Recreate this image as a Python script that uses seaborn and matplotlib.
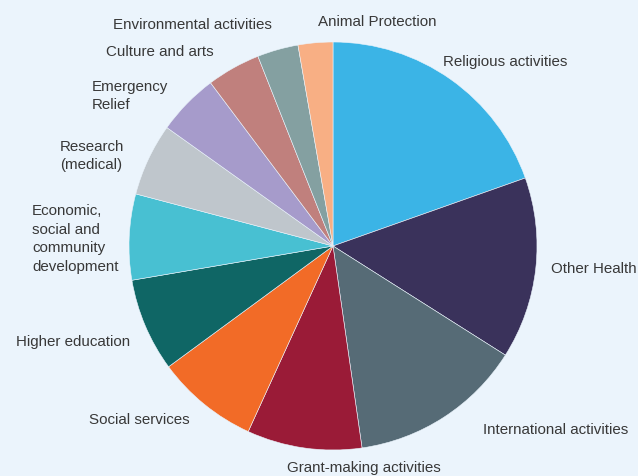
import matplotlib
matplotlib.use("Agg")
import matplotlib.pyplot as plt
import seaborn as sns

# Share of activities (percent), clockwise from 12 o'clock
categories = ["Religious activities", "Other Health", "International activities",
              "Grant-making activities", "Social services", "Higher education",
              "Economic,\nsocial and\ncommunity\ndevelopment", "Research\n(medical)",
              "Emergency\nRelief", "Culture and arts", "Environmental activities",
              "Animal Protection"]
shares = [19.6, 14.4, 13.75, 9.1, 8.1, 7.4, 6.8, 5.75, 4.9, 4.25, 3.25, 2.75]
colors = ["#3BB4E6", "#3A325B", "#566B76", "#9A1B37", "#F26B27", "#0F6665",
          "#48C0D2", "#BFC6CC", "#A69BCB", "#C0807D", "#84A0A1", "#F8AF84"]

# label anchor (pixels from left, from top)
label_pos = [(443, 62), (551, 269), (483, 430), (287, 468), (89, 420),
             (16, 342), (32, 239), (60, 156), (92, 96), (106, 52),
             (113, 25), (318, 22)]

sns.set_theme(style="white")
plt.rcParams["font.family"] = ["Liberation Sans", "DejaVu Sans"]

bg = "#EBF4FC"
fig = plt.figure(figsize=(6.38, 4.76), dpi=100, facecolor=bg)
ax = fig.add_axes([0, 0, 1, 1])
ax.set_facecolor(bg)

W, H = 638, 476
ax.pie(shares, colors=colors, startangle=90, counterclock=False,
       center=(333, H - 246), radius=204,
       wedgeprops=dict(edgecolor="#EBF4FC", linewidth=0.4))

for lab, (x, y) in zip(categories, label_pos):
    ax.text(x, H - y, lab, ha="left", va="center", fontsize=10.9,
            color="#383838", linespacing=1.42)

ax.set_xlim(0, W)
ax.set_ylim(0, H)
ax.set_aspect("auto")
ax.axis("off")

fig.savefig("out.png", dpi=100, facecolor=bg)
